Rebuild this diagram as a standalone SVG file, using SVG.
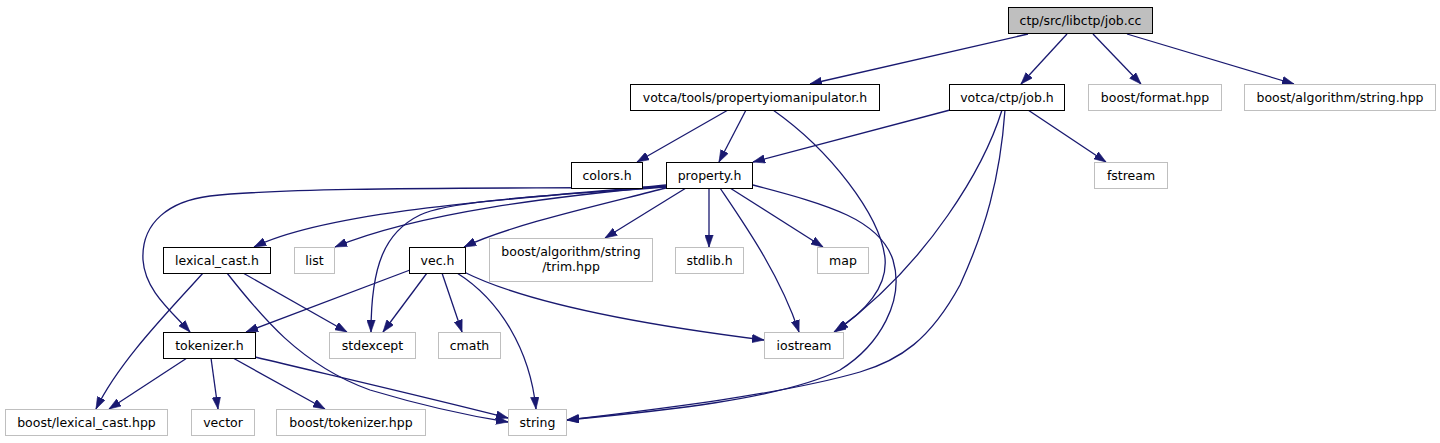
<svg xmlns="http://www.w3.org/2000/svg" width="1440" height="443" viewBox="0 0 1440 443">
<style>
.n rect{fill:#fff;stroke:#000;stroke-width:1}
.n.g rect{stroke:#bfbfbf}
.n.m rect{fill:#bfbfbf}
.n text{font-family:"DejaVu Sans",sans-serif;font-size:12.5px;fill:#000;text-anchor:middle}
#edges path{fill:none;stroke:#191970;stroke-width:1.3;marker-end:url(#a)}
</style>
<defs>
<marker id="a" markerUnits="userSpaceOnUse" markerWidth="12" markerHeight="9" refX="10" refY="3.5" orient="auto" viewBox="0 0 10 7">
<path d="M0,0 L10,3.5 L0,7 z" fill="#191970" stroke="#191970" stroke-width="0.5"/>
</marker>
</defs>
<rect width="1440" height="443" fill="#fff"/>
<g id="edges">
<path d="M1028,34 L810,84"/>
<path d="M1067,34 L1021,84"/>
<path d="M1093,34 L1141,84"/>
<path d="M1127,34 L1294,84"/>
<path d="M728,110 L637,162"/>
<path d="M746,110 L719,162"/>
<path d="M773,110 C830,150 880,215 885,258 C888,290 862,314 834,332"/>
<path d="M950,110 L753,162"/>
<path d="M1002,110 C985,165 930,262 836,331"/>
<path d="M1005,110 C1000,180 985,230 960,285 C930,340 900,360 860,372 C780,395 650,410 567,420"/>
<path d="M1028,110 L1106,162"/>
<path d="M666,185 C580,195 340,205 254,247"/>
<path d="M666,186 C560,196 420,212 335,247"/>
<path d="M666,188 C600,205 510,225 464,247"/>
<path d="M686,188 L605,238"/>
<path d="M709,188 L709,247"/>
<path d="M730,188 L823,247"/>
<path d="M720,188 C745,225 780,275 799,332"/>
<path d="M753,185 C830,205 880,220 893,260 C905,300 880,345 840,370 C780,400 650,412 567,420"/>
<path d="M666,187 C560,195 450,200 420,215 C385,232 371,265 371,332"/>
<path d="M666,187 C540,189 300,186 210,196 C170,201 141,222 143,260 C145,290 170,310 190,332"/>
<path d="M203,273 C170,310 120,360 96,409"/>
<path d="M243,273 L347,332"/>
<path d="M227,273 C260,315 300,365 370,390 C420,405 470,416 508,422"/>
<path d="M410,270 L246,332"/>
<path d="M427,273 L383,332"/>
<path d="M442,273 L462,332"/>
<path d="M457,273 C500,300 530,350 536,409"/>
<path d="M464,272 C520,300 620,322 764,340"/>
<path d="M187,358 L109,409"/>
<path d="M211,358 L218,409"/>
<path d="M233,358 L325,409"/>
<path d="M255,357 C330,375 430,398 508,418"/>
</g>
<g id="n_jobcc" class="n m"><rect x="1008.5" y="7.5" width="144" height="26"/><text x="1080.5" y="25">ctp/src/libctp/job.cc</text></g>
<g id="n_pio" class="n"><rect x="630.5" y="84.5" width="249" height="26"/><text x="755" y="102">votca/tools/propertyiomanipulator.h</text></g>
<g id="n_jobh" class="n"><rect x="949.5" y="84.5" width="115" height="26"/><text x="1007" y="102">votca/ctp/job.h</text></g>
<g id="n_format" class="n g"><rect x="1088.5" y="84.5" width="133" height="26"/><text x="1155" y="102">boost/format.hpp</text></g>
<g id="n_algstr" class="n g"><rect x="1244.5" y="84.5" width="191" height="26"/><text x="1340" y="102">boost/algorithm/string.hpp</text></g>
<g id="n_colors" class="n"><rect x="571.5" y="162.5" width="71" height="26"/><text x="607" y="180">colors.h</text></g>
<g id="n_property" class="n"><rect x="666.5" y="162.5" width="86" height="26"/><text x="709.5" y="180">property.h</text></g>
<g id="n_fstream" class="n g"><rect x="1094.5" y="162.5" width="73" height="26"/><text x="1131" y="180">fstream</text></g>
<g id="n_lexcast" class="n"><rect x="163.5" y="247.5" width="107" height="26"/><text x="217" y="265">lexical_cast.h</text></g>
<g id="n_list" class="n g"><rect x="294.5" y="247.5" width="40" height="26"/><text x="314.5" y="265">list</text></g>
<g id="n_vec" class="n"><rect x="409.5" y="247.5" width="56" height="26"/><text x="437.5" y="265">vec.h</text></g>
<g id="n_trim" class="n g"><rect x="489.5" y="238.5" width="163" height="43"/><text x="571" y="256">boost/algorithm/string</text><text x="571" y="271">/trim.hpp</text></g>
<g id="n_stdlib" class="n g"><rect x="675.5" y="247.5" width="68" height="26"/><text x="709.5" y="265">stdlib.h</text></g>
<g id="n_map" class="n g"><rect x="817.5" y="247.5" width="51" height="26"/><text x="843" y="265">map</text></g>
<g id="n_tokenizer" class="n"><rect x="163.5" y="332.5" width="92" height="26"/><text x="209.5" y="350">tokenizer.h</text></g>
<g id="n_stdexcept" class="n g"><rect x="329.5" y="332.5" width="86" height="26"/><text x="372.5" y="350">stdexcept</text></g>
<g id="n_cmath" class="n g"><rect x="438.5" y="332.5" width="62" height="26"/><text x="469.5" y="350">cmath</text></g>
<g id="n_iostream" class="n g"><rect x="764.5" y="332.5" width="79" height="26"/><text x="804" y="350">iostream</text></g>
<g id="n_boostlex" class="n g"><rect x="5.5" y="409.5" width="162" height="26"/><text x="86.5" y="427">boost/lexical_cast.hpp</text></g>
<g id="n_vector" class="n g"><rect x="191.5" y="409.5" width="63" height="26"/><text x="223" y="427">vector</text></g>
<g id="n_boosttok" class="n g"><rect x="276.5" y="409.5" width="149" height="26"/><text x="351" y="427">boost/tokenizer.hpp</text></g>
<g id="n_string" class="n g"><rect x="508.5" y="409.5" width="58" height="26"/><text x="537.5" y="427">string</text></g>
</svg>
